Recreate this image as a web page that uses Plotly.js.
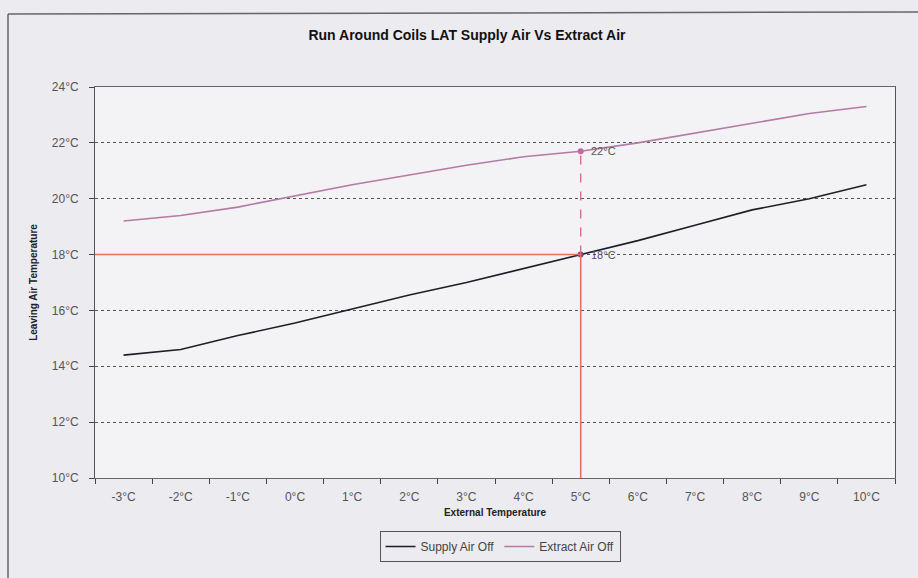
<!DOCTYPE html>
<html>
<head>
<meta charset="utf-8">
<script src="https://cdn.plot.ly/plotly-3.0.1.min.js"></script>
<style>
  html, body { margin: 0; padding: 0; background: #ebebf0; }
  #chart { width: 918px; height: 578px; }
</style>
</head>
<body>
<div id="chart"></div>
<script>
// ---- data ----
const externalTemps = [-3, -2, -1, 0, 1, 2, 3, 4, 5, 6, 7, 8, 9, 10];
const categories = externalTemps.map(t => t + '°C');
const supplyAirOff = [14.4, 14.6, 15.1, 15.55, 16.05, 16.55, 17.0, 17.5, 18.0, 18.5, 19.05, 19.6, 20.0, 20.5];
const extractAirOff = [19.2, 19.4, 19.7, 20.1, 20.5, 20.85, 21.2, 21.5, 21.7, 22.0, 22.35, 22.7, 23.05, 23.3];
const yTickValues = [10, 12, 14, 16, 18, 20, 22, 24];
const markedIndex = 8;               // 5°C
const supplyLabel = '18°C';
const extractLabel = '22°C';

const font = 'Liberation Sans, Arial, sans-serif';
const mx = categories[markedIndex];
const sy = supplyAirOff[markedIndex];
const ey = extractAirOff[markedIndex];

const traces = [
  {
    x: categories, y: supplyAirOff, name: 'Supply Air Off',
    type: 'scatter', mode: 'lines',
    line: { color: '#1e1e28', width: 1.6 }
  },
  {
    x: categories, y: extractAirOff, name: 'Extract Air Off',
    type: 'scatter', mode: 'lines',
    line: { color: '#b57aa5', width: 1.6 }
  },
  {
    x: [mx], y: [ey], type: 'scatter', mode: 'markers', showlegend: false,
    marker: { color: '#c46aa2', size: 6 }, hoverinfo: 'skip'
  },
  {
    x: [mx], y: [sy], type: 'scatter', mode: 'markers', showlegend: false,
    marker: { color: '#7a4a66', size: 6 }, hoverinfo: 'skip'
  }
];

const layout = {
  width: 918, height: 578,
  margin: { l: 95, r: 23, t: 87, b: 100 },
  paper_bgcolor: '#ebebf0',
  plot_bgcolor: '#f3f3f5',
  font: { family: font, color: '#444', size: 12 },
  title: {
    text: '<b>Run Around Coils LAT Supply Air Vs Extract Air</b>',
    font: { family: font, size: 14, color: '#111' },
    x: (467 - 95) / 800, xanchor: 'center', xref: 'paper',
    y: 1 - 35 / 578, yanchor: 'middle', yref: 'container'
  },
  xaxis: {
    type: 'category',
    categoryorder: 'array', categoryarray: categories,
    tickson: 'boundaries',
    ticks: 'outside', ticklen: 5, tickcolor: '#444', tickwidth: 1,
    ticklabelstandoff: 8,
    tickfont: { family: font, size: 12, color: '#555' },
    showline: true, linecolor: '#666', linewidth: 1, mirror: true,
    showgrid: false, zeroline: false,
    range: [-0.5, categories.length - 0.5],
    title: {
      text: '<b>External Temperature</b>',
      font: { family: font, size: 10, color: '#222' },
      standoff: 5
    }
  },
  yaxis: {
    range: [10, 24],
    tickmode: 'array', tickvals: yTickValues,
    ticktext: yTickValues.map(v => v + '°C'),
    ticks: 'outside', ticklen: 5, tickcolor: '#444', tickwidth: 1,
    ticklabelstandoff: 8,
    tickfont: { family: font, size: 12, color: '#555' },
    showline: true, linecolor: '#555', linewidth: 1, mirror: true,
    showgrid: true, gridcolor: '#555', gridwidth: 1, griddash: 'dot',
    zeroline: false,
    title: {
      text: '<b>Leaving Air Temperature</b>',
      font: { family: font, size: 10, color: '#222' },
      standoff: 12
    }
  },
  legend: {
    orientation: 'h',
    x: (500 - 95) / 800, xanchor: 'center', xref: 'paper',
    y: (478 - 531) / 391, yanchor: 'top',
    bordercolor: '#555', borderwidth: 1, bgcolor: 'rgba(0,0,0,0)',
    font: { family: font, size: 12, color: '#444' },
    itemwidth: 30, tracegroupgap: 0
  },
  shapes: [
    // horizontal red line from the y axis to the supply point
    { type: 'line', xref: 'x', yref: 'y', x0: -0.5, x1: markedIndex, y0: sy, y1: sy,
      line: { color: '#e2725e', width: 1.6 }, layer: 'above' },
    // vertical red line from the x axis up to the supply point
    { type: 'line', xref: 'x', yref: 'y', x0: markedIndex, x1: markedIndex, y0: 10, y1: sy,
      line: { color: '#e2725e', width: 1.6 }, layer: 'above' },
    // dashed line between the two points
    { type: 'line', xref: 'x', yref: 'y', x0: markedIndex, x1: markedIndex, y0: sy, y1: ey,
      line: { color: '#d0708f', width: 1.4, dash: 'dash' }, layer: 'above' },
    // outer chart frame (left and top edges)
    { type: 'line', xref: 'paper', yref: 'paper',
      x0: (8 - 95) / 800, x1: (8 - 95) / 800, y0: (478 - 578) / 391, y1: (478 - 14) / 391,
      line: { color: '#666', width: 1.5 } },
    { type: 'line', xref: 'paper', yref: 'paper',
      x0: (8 - 95) / 800, x1: (918 - 95) / 800, y0: (478 - 14) / 391, y1: (478 - 12) / 391,
      line: { color: '#666', width: 1.5 } }
  ],
  annotations: [
    { x: mx, y: ey, xref: 'x', yref: 'y', text: extractLabel, showarrow: false,
      xanchor: 'left', xshift: 8, font: { family: font, size: 11, color: '#555' } },
    { x: mx, y: sy, xref: 'x', yref: 'y', text: supplyLabel, showarrow: false,
      xanchor: 'left', xshift: 8, font: { family: font, size: 11, color: '#555' } }
  ]
};

Plotly.newPlot('chart', traces, layout, { displayModeBar: false, staticPlot: true });
</script>
</body>
</html>
